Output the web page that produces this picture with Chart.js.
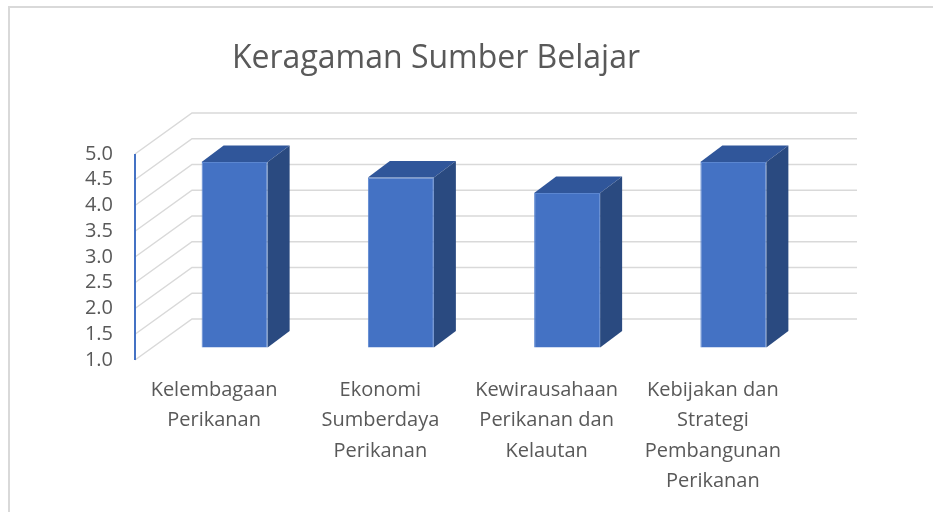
<!DOCTYPE html>
<html>
<head>
<meta charset="utf-8">
<script src="https://cdn.jsdelivr.net/npm/chart.js@4.4.1/dist/chart.umd.min.js"></script>
<style>
    html, body { margin: 0; padding: 0; background: #fff; }
    #wrap { position: relative; width: 933px; height: 512px; }
</style>
</head>
<body>
<div id="wrap"><canvas id="chart" width="933" height="512"></canvas></div>
<script>
// data
const categories = [
    ['Kelembagaan', 'Perikanan'],
    ['Ekonomi', 'Sumberdaya', 'Perikanan'],
    ['Kewirausahaan', 'Perikanan dan', 'Kelautan'],
    ['Kebijakan dan', 'Strategi', 'Pembangunan', 'Perikanan']
];
const values = [4.6, 4.3, 4.0, 4.6];
const yTicks = [1.0, 1.5, 2.0, 2.5, 3.0, 3.5, 4.0, 4.5, 5.0];
const chartTitle = 'Keragaman Sumber Belajar';

const FONT = '"Open Sans", "Noto Sans", sans-serif';
const TEXT = '#595959';

// 3D look (pixels): back wall offset and bar placement in depth
const WALL = { dx: 57, dy: -41 };
const BAR_FRONT = { dx: 16.5, dy: -12.5 };
const BAR_DEPTH = { dx: 22, dy: -16.5 };

const fake3d = {
    id: 'fake3d',
    beforeDraw(chart) {
        const ctx = chart.ctx;
        ctx.save();
        // outer frame
        ctx.strokeStyle = '#d9d9d9';
        ctx.lineWidth = 2;
        ctx.beginPath();
        ctx.moveTo(9, 512);
        ctx.lineTo(9, 7);
        ctx.lineTo(933, 7);
        ctx.stroke();
        // title
        ctx.fillStyle = TEXT;
        ctx.font = '32px ' + FONT;
        ctx.textAlign = 'center';
        ctx.textBaseline = 'alphabetic';
        ctx.fillText(chartTitle, 436, 68);
        ctx.restore();
    },
    beforeDatasetsDraw(chart) {
        const ctx = chart.ctx;
        const area = chart.chartArea;
        const y = chart.scales.y;
        ctx.save();
        ctx.strokeStyle = '#d9d9d9';
        ctx.lineWidth = 1.5;
        yTicks.forEach(v => {
            const py = y.getPixelForValue(v);
            ctx.beginPath();
            ctx.moveTo(area.left, py);
            ctx.lineTo(area.left + WALL.dx, py + WALL.dy);
            ctx.lineTo(area.right + WALL.dx, py + WALL.dy);
            ctx.stroke();
        });
        // front value axis
        ctx.strokeStyle = '#4472c4';
        ctx.lineWidth = 2;
        ctx.beginPath();
        ctx.moveTo(area.left, y.getPixelForValue(5));
        ctx.lineTo(area.left, y.getPixelForValue(1));
        ctx.stroke();
        ctx.restore();
    },
    beforeDatasetDraw(chart) {
        chart.ctx.save();
        chart.ctx.translate(BAR_FRONT.dx, BAR_FRONT.dy);
    },
    afterDatasetDraw(chart, args) {
        const ctx = chart.ctx;
        args.meta.data.forEach(bar => {
            const l = bar.x - bar.width / 2;
            const r = bar.x + bar.width / 2;
            const t = bar.y;
            const b = bar.base;
            const dx = BAR_DEPTH.dx, dy = BAR_DEPTH.dy;
            // top face
            ctx.fillStyle = '#30569a';
            ctx.beginPath();
            ctx.moveTo(l, t);
            ctx.lineTo(l + dx, t + dy);
            ctx.lineTo(r + dx, t + dy);
            ctx.lineTo(r, t);
            ctx.closePath();
            ctx.fill();
            // side face
            ctx.fillStyle = '#2a4a80';
            ctx.beginPath();
            ctx.moveTo(r, t);
            ctx.lineTo(r + dx, t + dy);
            ctx.lineTo(r + dx, b + dy);
            ctx.lineTo(r, b);
            ctx.closePath();
            ctx.fill();
        });
        ctx.restore();
    }
};

new Chart(document.getElementById('chart'), {
    type: 'bar',
    data: {
        labels: categories,
        datasets: [{
            data: values,
            base: 1,
            backgroundColor: '#4472c4',
            borderColor: '#5b86d0',
            borderWidth: 1,
            barPercentage: 0.397,
            categoryPercentage: 1,
            clip: false
        }]
    },
    options: {
        responsive: false,
        animation: false,
        layout: { padding: { left: 0, top: 154, right: 133, bottom: 0 } },
        plugins: {
            legend: { display: false },
            title: { display: false },
            tooltip: { enabled: false }
        },
        scales: {
            y: {
                min: 1,
                max: 5,
                afterFit(s) { s.width = 135; },
                afterBuildTicks(s) { s.ticks = yTicks.map(v => ({ value: v })); },
                grid: { display: false, drawTicks: false },
                border: { display: false },
                ticks: {
                    autoSkip: false,
                    padding: 22,
                    color: TEXT,
                    font: { family: FONT, size: 20 },
                    callback: v => Number(v).toFixed(1)
                }
            },
            x: {
                afterFit(s) { s.height = 152; },
                grid: { display: false, drawTicks: false },
                border: { display: false },
                ticks: {
                    padding: 15,
                    labelOffset: -4,
                    maxRotation: 0,
                    autoSkip: false,
                    color: TEXT,
                    font: { family: FONT, size: 20, lineHeight: 1.52 }
                }
            }
        }
    },
    plugins: [fake3d]
});
</script>
</body>
</html>
